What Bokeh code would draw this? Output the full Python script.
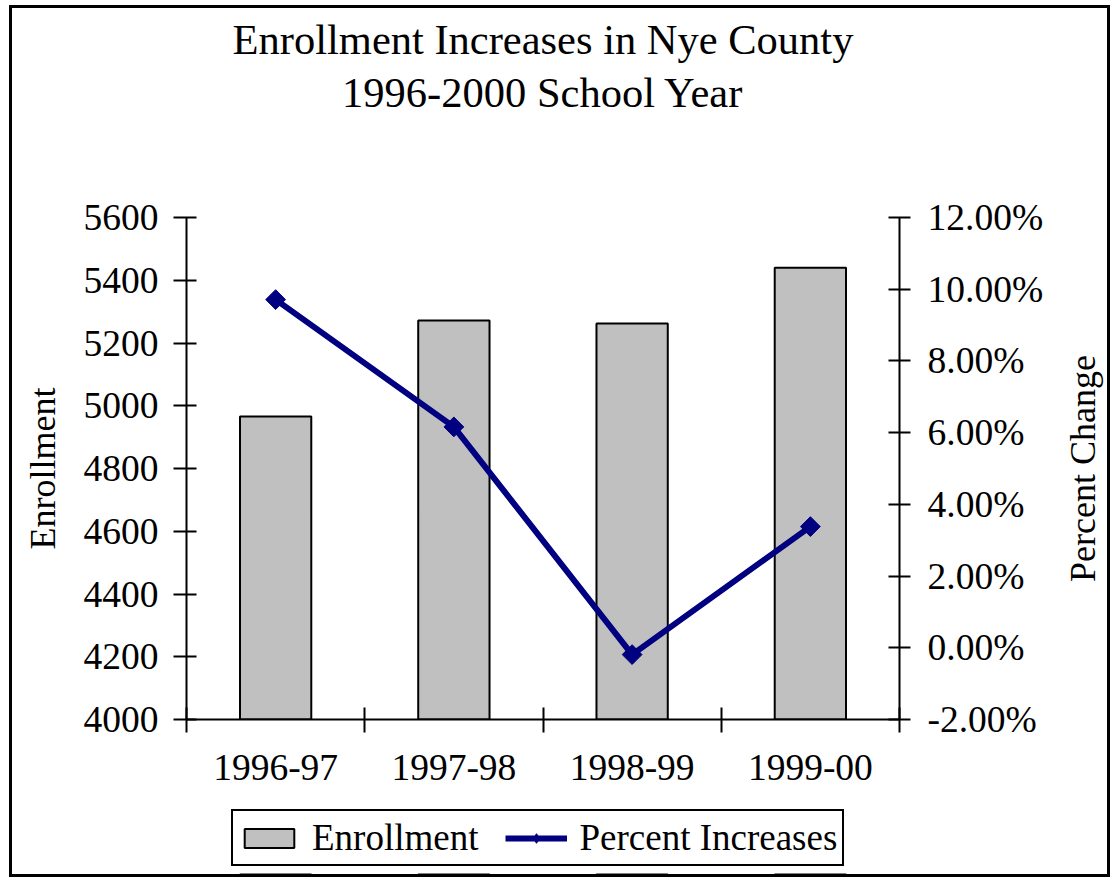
import math
from bokeh.plotting import figure
from bokeh.layouts import gridplot
from bokeh.models import (Range1d, LinearAxis, FixedTicker, NumeralTickFormatter,
                          Legend, LegendItem, Title, Label)
from bokeh.embed import file_html
from bokeh.resources import INLINE

# ---- data ----
years = ["1996-97", "1997-98", "1998-99", "1999-00"]
enrollment = [4966, 5272, 5262, 5440]
pct_increase = [0.0971, 0.0616, -0.0019, 0.0338]
left_ticks = [4000, 4200, 4400, 4600, 4800, 5000, 5200, 5400, 5600]
right_ticks = [-0.02, 0.0, 0.02, 0.04, 0.06, 0.08, 0.10, 0.12]
title_lines = ["Enrollment Increases in Nye County", "1996-2000 School Year"]
series_names = ["Enrollment", "Percent Increases"]
axis_titles = ["Enrollment", "Percent Change"]

FONT = "Liberation Serif"
TICK_FS = "37.5px"
BAR_STYLE = dict(fill_color="#C0C0C0", line_color="black", line_width=2)
LINE_STYLE = dict(line_color="#000080", line_width=6)
x = [i + 0.5 for i in range(len(years))]

p = figure(width=1034, height=800, title=None,
           x_range=Range1d(0, len(years)),
           y_range=Range1d(left_ticks[0], left_ticks[-1]),
           output_backend="svg", toolbar_location=None,
           min_border_left=174, min_border_right=144,
           min_border_top=209, min_border_bottom=89)
p.outline_line_color = None
p.background_fill_color = "white"
p.border_fill_color = "white"

p.extra_y_ranges = {"pct": Range1d(right_ticks[0], right_ticks[-1])}

# title: spacer, then second line, then first line (stacked upward)
p.add_layout(Title(text=" ", text_font_size="10px", standoff=87), "above")
p.add_layout(Title(text=title_lines[1], align="center", text_font=FONT,
                   text_font_size="42.5px", text_font_style="normal",
                   text_color="black", standoff=4), "above")
p.add_layout(Title(text=title_lines[0], align="center", text_font=FONT,
                   text_font_size="42.5px", text_font_style="normal",
                   text_color="black", standoff=4), "above")

# grid: only the top gray line
p.xgrid.visible = False
p.ygrid.ticker = FixedTicker(ticks=[left_ticks[-1]])
p.ygrid.grid_line_color = "#808080"
p.ygrid.grid_line_width = 2

bars = p.vbar(x=x, top=enrollment, bottom=left_ticks[0], width=0.4, **BAR_STYLE)
line = p.line(x=x, y=pct_increase, y_range_name="pct", **LINE_STYLE)
pts = p.scatter(x=x, y=pct_increase, y_range_name="pct", marker="square",
                angle=math.pi / 4, size=14, fill_color="#000080", line_color="#000080")

# x axis
xa = p.xaxis[0]
xa.ticker = FixedTicker(ticks=x, minor_ticks=list(range(len(years) + 1)))
xa.major_label_overrides = {xi: yr for xi, yr in zip(x, years)}
xa.major_tick_in = 0
xa.major_tick_out = 0
xa.minor_tick_in = 12
xa.minor_tick_out = 13
xa.minor_tick_line_color = "black"
xa.minor_tick_line_width = 2
xa.axis_line_width = 2
xa.axis_line_color = "black"
xa.major_label_standoff = 22
xa.major_label_text_font = FONT
xa.major_label_text_font_size = TICK_FS
xa.major_label_text_color = "black"

# left axis
ya = p.yaxis[0]
ya.ticker = FixedTicker(ticks=left_ticks)
ya.major_tick_in = 10
ya.major_tick_out = 13
ya.major_tick_line_width = 2
ya.minor_tick_line_color = None
ya.axis_line_width = 2
ya.major_label_standoff = 15
ya.major_label_text_font = FONT
ya.major_label_text_font_size = TICK_FS
ya.major_label_text_color = "black"
ya.axis_label = axis_titles[0]
ya.axis_label_text_font = FONT
ya.axis_label_text_font_size = "36px"
ya.axis_label_text_font_style = "normal"
ya.axis_label_text_color = "black"
ya.axis_label_standoff = 18

# right axis (ticks and labels)
ra = LinearAxis(y_range_name="pct", ticker=FixedTicker(ticks=right_ticks),
                formatter=NumeralTickFormatter(format="0.00%"))
ra.major_tick_in = 11
ra.major_tick_out = 11
ra.major_tick_line_width = 2
ra.minor_tick_line_color = None
ra.axis_line_width = 2
ra.major_label_standoff = 17
ra.major_label_text_font = FONT
ra.major_label_text_font_size = TICK_FS
ra.major_label_text_color = "black"
p.add_layout(ra, "right")

# right-hand axis title strip (reads bottom-to-top)
pr = figure(width=61, height=800, x_range=Range1d(0, 1), y_range=Range1d(0, 1),
            output_backend="svg", toolbar_location=None,
            min_border_left=0, min_border_right=0, min_border_top=0, min_border_bottom=0,
            x_axis_type=None, y_axis_type=None)
pr.outline_line_color = None
pr.grid.visible = False
pr.add_layout(Label(x=0.6, y=0.5, text=axis_titles[1], angle=math.pi / 2,
                    text_align="center", text_baseline="middle",
                    text_font=FONT, text_font_size="36px", text_color="black"))

# legend strip below the chart (its glyph renderers lie far outside the strip's view)
pl = figure(width=1034, height=66, x_range=Range1d(0, len(years)), y_range=Range1d(9000, 9001),
            output_backend="svg", toolbar_location=None,
            min_border_left=0, min_border_right=0, min_border_top=0, min_border_bottom=0,
            x_axis_type=None, y_axis_type=None)
pl.outline_line_color = None
pl.grid.visible = False
lb = pl.vbar(x=x, top=enrollment, bottom=left_ticks[0], width=0.4, **BAR_STYLE)
ll = pl.line(x=x, y=pct_increase, **LINE_STYLE)
lp = pl.scatter(x=x, y=pct_increase, marker="diamond", size=14,
                fill_color="#000080", line_color="#000080")
legend = Legend(items=[LegendItem(label=series_names[0], renderers=[lb]),
                       LegendItem(label=series_names[1], renderers=[ll, lp])],
                location=(45, 8), orientation="horizontal",
                border_line_color="black", border_line_width=2, border_line_alpha=1,
                background_fill_color="white", background_fill_alpha=1,
                label_text_font=FONT, label_text_font_size="37px",
                label_text_color="black",
                glyph_width=62, glyph_height=24, label_standoff=12,
                spacing=27, padding=5, margin=0)
pl.add_layout(legend, "center")

layout = gridplot([[p, pr], [pl, None]], toolbar_location=None)
layout.styles = {"border": "3px solid black", "margin-left": "9px", "margin-top": "5px"}

open("out.html", "w").write(file_html(layout, INLINE))
